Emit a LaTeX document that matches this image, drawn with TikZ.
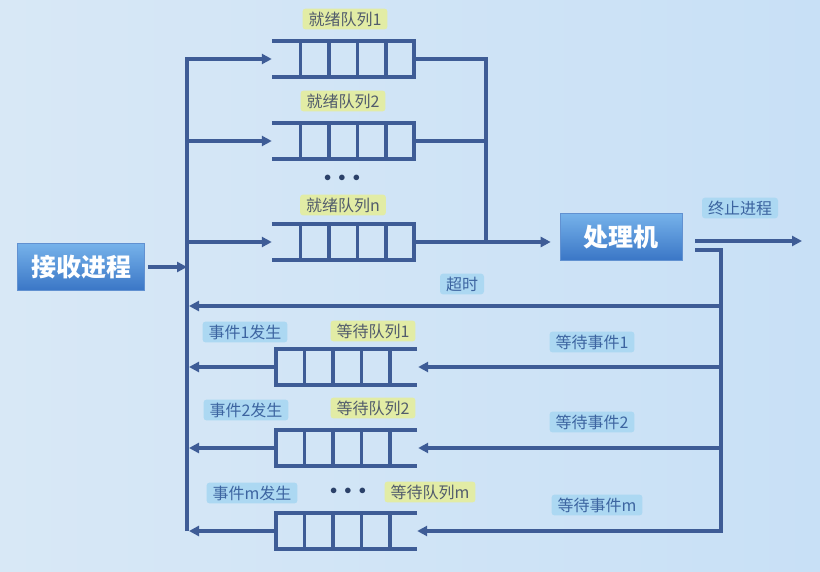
\documentclass[tikz,border=0pt]{standalone}
\usepackage{fontspec}
\newfontfamily\cjk{Noto Sans CJK SC}
\usetikzlibrary{arrows.meta,calc}
\definecolor{ln}{RGB}{62,92,150}
\definecolor{bgA}{RGB}{216,232,246}
\definecolor{bgB}{RGB}{200,224,246}
\definecolor{ylw}{RGB}{226,236,165}
\definecolor{cyn}{RGB}{172,216,242}
\definecolor{gtxt}{RGB}{82,92,108}
\definecolor{btxt}{RGB}{60,100,160}
\definecolor{boxT}{RGB}{118,178,234}
\definecolor{boxB}{RGB}{58,118,198}
\tikzset{
  line/.style={draw=ln, line width=3.3pt, line join=miter},
  arr/.style={line, -{Triangle[length=10pt,width=10pt]}},
  ql/.style={draw=ln, line width=3.6pt, line join=miter},
  qnode/.style={inner sep=0pt, minimum height=36pt},
  pbox/.style={top color=boxT, bottom color=boxB, draw=boxB!80!white, line width=0.6pt,
    text=white, font=\cjk\bfseries\fontsize{25}{27}\selectfont, inner sep=0pt},
  ylab/.style={fill=ylw, rounded corners=3pt, text=gtxt, inner xsep=6pt, inner ysep=3pt,
    font=\cjk\fontsize{16}{18}\selectfont},
  clab/.style={fill=cyn, rounded corners=3pt, text=btxt, inner xsep=6pt, inner ysep=3pt,
    font=\cjk\fontsize{16}{18}\selectfont},
  dots/.style={text=ln!70!black, font=\fontsize{15}{15}\selectfont, inner sep=0pt},
}
\newcommand\readyqueue[2]{%
  \node[qnode, minimum width=142pt] (#1) at (#2) {};
  \draw[ql] (#1.north west) -- (#1.north east) -- (#1.south east) -- (#1.south west);
  \foreach \i in {1,2,3,4}
    \draw[ql] ($(#1.north west)+(\i*28.5,0)$) -- ($(#1.south west)+(\i*28.5,0)$);
}
\newcommand\waitqueue[2]{%
  \node[qnode, minimum width=141pt] (#1) at (#2) {};
  \draw[ql] (#1.north east) -- (#1.north west) -- (#1.south west) -- (#1.south east);
  \foreach \i in {1,2,3,4}
    \draw[ql] ($(#1.north west)+(\i*28.5,0)$) -- ($(#1.south west)+(\i*28.5,0)$);
}
\begin{document}
\begin{tikzpicture}[x=1pt,y=-1pt]
\useasboundingbox (0,0) rectangle (820,572);
\shade[left color=bgA, right color=bgB] (0,0) rectangle (820,572);

% queues
\readyqueue{r1}{343,59}
\readyqueue{r2}{343,141}
\readyqueue{rn}{343,242}
\waitqueue{w1}{346.5,367}
\waitqueue{w2}{346.5,448}
\waitqueue{wm}{346.5,531}

% process boxes
\node[pbox, minimum width=127pt, minimum height=47pt] (recv) at (81,267) {接收进程};
\node[pbox, minimum width=122pt, minimum height=47pt] (cpu) at (621,237) {处理机};

% coordinates
\coordinate (bt) at (187,59);
\coordinate (bb) at (187,531);
\coordinate (rj) at (486,242);
\coordinate (term) at (802,241);
\coordinate (fb) at (721,250);
\coordinate (fbb) at (721,531);
\coordinate (to) at (721,306);

% bus and ready queue inputs
\draw[arr] (bb) -- (bt) -- (r1.west);
\draw[arr] (bt |- r2.west) -- (r2.west);
\draw[arr] (bt |- rn.west) -- (rn.west);
\draw[arr, shorten <=3pt] (recv.east) -- (bt |- recv.east);

% ready queue outputs to CPU
\draw[line] (r1.east) -| (rj);
\draw[line] (r2.east) -- (rj |- r2.east);
\draw[arr, shorten >=9pt] (rn.east) -- (cpu.west |- rn.east);

% CPU outputs
\draw[arr, shorten <=13pt] (cpu.east |- term) -- (term);
\draw[arr, shorten <=13pt] (cpu.east |- fb) -- (fb) -- (fbb) -- (wm.east);
\draw[arr, shorten >=2pt] (to) -- (bt |- to);
\draw[arr, shorten >=1pt] (fb |- w1.east) -- (w1.east);
\draw[arr, shorten >=1pt] (fb |- w2.east) -- (w2.east);

% wait queue outputs
\draw[arr, shorten >=2pt] (w1.west) -- (bt |- w1.west);
\draw[arr, shorten >=2pt] (w2.west) -- (bt |- w2.west);
\draw[arr, shorten >=2pt] (wm.west) -- (bb);

% labels
\node[ylab] (lr1) at (345,19) {就绪队列1};
\node[ylab] (lr2) at (343,101) {就绪队列2};
\node[dots] (d1) at (342,178) {$\bullet\mkern5mu\bullet\mkern5mu\bullet$};
\node[ylab] (lrn) at (343,205) {就绪队列n};
\node[ylab] (lw1) at (373,331) {等待队列1};
\node[ylab] (lw2) at (373,408) {等待队列2};
\node[ylab] (lwm) at (430,492) {等待队列m};
\node[clab] (e1) at (245,332) {事件1发生};
\node[clab] (e2) at (246,410) {事件2发生};
\node[clab] (em) at (252,493) {事件m发生};
\node[dots] (d2) at (348,491) {$\bullet\mkern5mu\bullet\mkern5mu\bullet$};
\node[clab] (tmo) at (462,284) {超时};
\node[clab] (we1) at (592,342) {等待事件1};
\node[clab] (we2) at (592,422) {等待事件2};
\node[clab] (wem) at (597,505) {等待事件m};
\node[clab] (trm) at (740,208) {终止进程};
\end{tikzpicture}
\end{document}
